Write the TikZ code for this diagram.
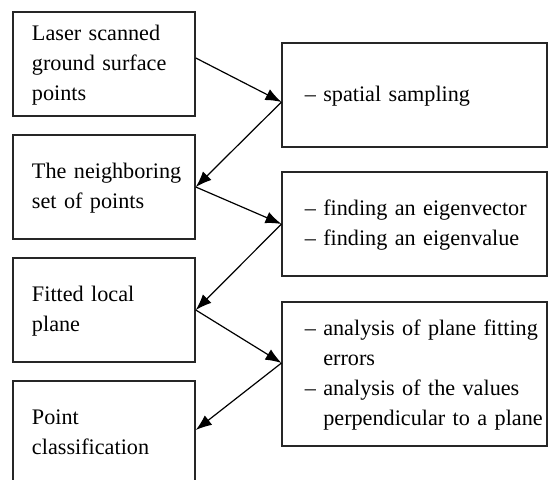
\documentclass[tikz,border=0pt]{standalone}
\usepackage{fontspec}
\setmainfont{Liberation Serif}
\usetikzlibrary{arrows.meta}

\newcommand{\boxlines}[1]{\begin{tabular}{@{}l@{}}#1\end{tabular}}
\newcommand{\hang}{\phantom{\textendash{} }}

\tikzset{
  leftbox/.style={draw=black!85, line width=0.8pt, minimum width=91pt, minimum height=52pt,
    inner xsep=9.3pt, text width=72pt, align=left, font=\fontsize{11.1}{15}\selectfont},
  rightbox/.style={leftbox, minimum width=132.5pt, inner xsep=11pt, text width=110pt},
  arr/.style={-{Latex[length=8pt,width=6pt]}, line width=0.6pt}
}

\begin{document}
\begin{tikzpicture}[x=0.5pt, y=-0.5pt]
      \useasboundingbox (0,0) rectangle (548,479);

      % Nodes
      \node[leftbox] at (104, 64) (laser) {\boxlines{Laser scanned\\ground surface\\points}};
      \node[leftbox] at (104, 187) (neighbors) {\boxlines{The neighboring\\set of points}};
      \node[leftbox] at (104, 310) (plane) {\boxlines{Fitted local\\plane}};
      \node[leftbox] at (104, 433) (classif) {\boxlines{Point\\classification}};

      \node[rightbox] at (414.8, 95) (sampling) {\boxlines{\textendash{} spatial sampling}};
      \node[rightbox] at (414.8, 224) (eigen) {\boxlines{\textendash{} finding an eigenvector\\\textendash{} finding an eigenvalue}};
      \node[rightbox, minimum height=72pt] at (414.8, 374) (analysis) {\boxlines{\textendash{} analysis of plane fitting\\\hang errors\\\textendash{} analysis of the values\\\hang perpendicular to a plane}};

      \draw[arr] ([yshift=3pt]laser.east) -- ([yshift=-3.5pt]sampling.west);
      \draw[arr] ([yshift=-3.5pt]sampling.west) -- (neighbors.east);
      \draw[arr] (neighbors.east) -- (eigen.west);
      \draw[arr] (eigen.west) -- (plane.east);
      \draw[arr] (plane.east) -- ([yshift=5.5pt]analysis.west);
      \draw[arr] ([yshift=5.5pt]analysis.west) -- ([yshift=1.5pt]classif.east);
    \end{tikzpicture}
\end{document}
